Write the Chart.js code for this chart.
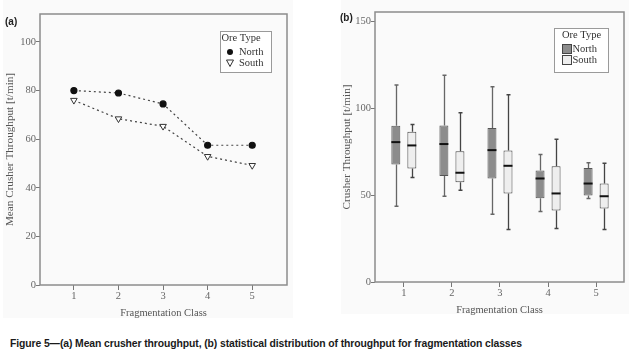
<!DOCTYPE html>
<html lang="en">
<head>
<meta charset="UTF-8" />
<title>Figure 5 - Crusher throughput</title>
<script src="https://cdn.jsdelivr.net/npm/chart.js"></script>
<style>
  body { margin: 0; background: #fff; width: 629px; height: 356px; position: relative; overflow: hidden; }
  .panel { position: absolute; background: #fafafa; }
  canvas { position: absolute; }
  .tag { position: absolute; font: bold 10px "Liberation Sans", Arial, sans-serif; color: #222; }
  #caption { position: absolute; left: 10px; top: 338px; font: bold 10.4px "Liberation Sans", Arial, sans-serif; color: #1a1a1a; white-space: nowrap; letter-spacing: -0.1px; }
</style>
</head>
<body>
<div class="panel" style="left:3px;top:0;width:290px;height:318px"></div>
<div class="panel" style="left:341px;top:0;width:288px;height:314px"></div>
<canvas id="chartA" width="300" height="325" style="left:0;top:0"></canvas>
<canvas id="chartB" width="324" height="325" style="left:305px;top:0"></canvas>
<div class="tag" style="left:5px;top:16px">(a)</div>
<div class="tag" style="left:340px;top:12px">(b)</div>
<div id="caption">Figure 5—(a) Mean crusher throughput, (b) statistical distribution of throughput for fragmentation classes</div>

<script>
// fragmentation classes
const classes = [1, 2, 3, 4, 5];

// (a) mean crusher throughput [t/min]
const northMean = [80, 79, 74.5, 57.5, 57.5];
const southMean = [76, 68.4, 65.3, 52.9, 49.2];

// (b) box plot statistics [t/min]
const northMin = [43.6, 49.3, 39.0, 40.5, 48.0];
const northQ1 = [67.6, 60.9, 59.5, 48.2, 49.7];
const northMed = [80.4, 79.3, 75.8, 59.5, 56.6];
const northQ3 = [89.8, 90.0, 88.5, 64.1, 65.6];
const northMax = [113.2, 118.8, 112.3, 73.3, 68.5];

const southMin = [60.1, 52.8, 30.2, 30.7, 30.2];
const southQ1 = [65.3, 57.4, 50.9, 41.1, 42.2];
const southMed = [78.5, 62.8, 66.8, 50.9, 49.3];
const southQ3 = [86.4, 75.2, 75.6, 66.6, 56.6];
const southMax = [90.6, 97.3, 107.7, 82.0, 68.3];

const yTicksA = [0, 20, 40, 60, 80, 100];
const yTicksB = [0, 50, 100, 150];

const serif = "'Liberation Serif', 'Times New Roman', serif";

// full rectangle round the plot area
const frame = {
  id: "frame",
  beforeDatasetsDraw(chart) {
    const { ctx, chartArea: a } = chart;
    ctx.save();
    ctx.strokeStyle = "#8c8c8c";
    ctx.lineWidth = 1.5;
    ctx.strokeRect(a.left, a.top, a.right - a.left, a.bottom - a.top);
    ctx.restore();
  }
};

// legend box inside the plot
const legendBox = {
  id: "legendBox",
  afterDraw(chart, args, opts) {
    const ctx = chart.ctx;
    ctx.save();
    ctx.fillStyle = "#fff";
    ctx.fillRect(opts.x, opts.y, opts.w, opts.h);
    ctx.strokeStyle = "#9a9a9a";
    ctx.lineWidth = 1;
    ctx.strokeRect(opts.x + 0.5, opts.y + 0.5, opts.w, opts.h);
    ctx.font = "10.5px " + serif;
    ctx.fillStyle = "#333";
    ctx.textBaseline = "middle";
    ctx.textAlign = "center";
    ctx.fillText("Ore Type", opts.titleX, opts.titleY);
    ctx.textAlign = "left";
    opts.items.forEach(it => {
      it.mark(ctx);
      ctx.fillStyle = "#333";
      ctx.fillText(it.text, it.tx, it.ty);
    });
    ctx.restore();
  }
};

function onlyTicks(list) {
  return scale => { scale.ticks = list.map(v => ({ value: v })); };
}

const tickFont = { family: serif, size: 10.5 };
const xTitleFont = { family: serif, size: 10.5 };
const yTitleFont = { family: serif, size: 11.2 };

// ---------- (a) ----------
new Chart(document.getElementById("chartA"), {
  type: "line",
  data: {
    datasets: [
      {
        label: "North",
        data: classes.map((c, i) => ({ x: c, y: northMean[i] })),
        borderColor: "#444",
        borderWidth: 1.2,
        borderDash: [2, 3],
        pointStyle: "circle",
        pointRadius: 3,
        pointBackgroundColor: "#111",
        pointBorderColor: "#111",
        tension: 0
      },
      {
        label: "South",
        data: classes.map((c, i) => ({ x: c, y: southMean[i] })),
        borderColor: "#444",
        borderWidth: 1.2,
        borderDash: [2, 3],
        pointStyle: "triangle",
        rotation: 180,
        pointRadius: 3.8,
        pointBackgroundColor: "#fff",
        pointBorderColor: "#333",
        pointBorderWidth: 1,
        tension: 0
      }
    ]
  },
  options: {
    responsive: false,
    animation: false,
    devicePixelRatio: 1,
    layout: { padding: { top: 14, right: 13, left: 1, bottom: 0 } },
    plugins: {
      legend: { display: false },
      tooltip: { enabled: false },
      legendBox: {
        x: 220, y: 31, w: 51, h: 41, titleX: 241, titleY: 38,
        items: [
          { text: "North", tx: 239, ty: 52, mark: ctx => { ctx.beginPath(); ctx.fillStyle = "#111"; ctx.arc(230, 52, 3, 0, Math.PI * 2); ctx.fill(); } },
          { text: "South", tx: 239, ty: 63, mark: ctx => { ctx.beginPath(); ctx.strokeStyle = "#333"; ctx.lineWidth = 1; ctx.moveTo(226.5, 60); ctx.lineTo(233.5, 60); ctx.lineTo(230, 66.5); ctx.closePath(); ctx.stroke(); } }
        ]
      }
    },
    scales: {
      x: {
        type: "linear",
        min: 0.24, max: 5.78,
        afterBuildTicks: onlyTicks(classes),
        afterFit: s => { s.height = 40; },
        grid: { drawOnChartArea: false, drawTicks: true, tickLength: 5, color: "#777" },
        border: { display: false },
        ticks: { font: tickFont, color: "#666", padding: 0, maxRotation: 0 },
        title: { display: true, text: "Fragmentation Class", font: xTitleFont, color: "#555", padding: { top: 0, bottom: 5 } }
      },
      y: {
        min: 0, max: 111.5,
        afterBuildTicks: onlyTicks(yTicksA),
        afterFit: s => { s.width = 39; },
        grid: { drawOnChartArea: false, drawTicks: true, tickLength: 4, color: "#777" },
        border: { display: false },
        ticks: { font: tickFont, color: "#666", padding: 0 },
        title: { display: true, text: "Mean Crusher Throughput [t/min]", font: yTitleFont, color: "#555", padding: { top: 2, bottom: 0 } }
      }
    }
  },
  plugins: [frame, legendBox]
});

// ---------- (b) ----------
const boxStats = [
  { min: northMin, q1: northQ1, med: northMed, q3: northQ3, max: northMax, color: "#666" },
  { min: southMin, q1: southQ1, med: southMed, q3: southQ3, max: southMax, color: "#444" }
];

// whiskers and medians, placed through the chart scales
const whiskers = {
  id: "whiskers",
  afterDatasetsDraw(chart) {
    const { ctx } = chart;
    const y = chart.scales.y;
    ctx.save();
    boxStats.forEach((st, d) => {
      chart.getDatasetMeta(d).data.forEach((bar, i) => {
        const x = Math.round(bar.x) + 0.5;
        const half = bar.width / 2;
        ctx.strokeStyle = st.color;
        ctx.lineWidth = 1.3;
        ctx.beginPath();
        ctx.moveTo(x, y.getPixelForValue(st.q3[i]));
        ctx.lineTo(x, y.getPixelForValue(st.max[i]));
        ctx.moveTo(x, y.getPixelForValue(st.q1[i]));
        ctx.lineTo(x, y.getPixelForValue(st.min[i]));
        ctx.stroke();
        ctx.lineWidth = 1.5;
        ctx.beginPath();
        [st.max[i], st.min[i]].forEach(v => {
          const py = y.getPixelForValue(v);
          ctx.moveTo(x - 2, py);
          ctx.lineTo(x + 2, py);
        });
        ctx.stroke();
        ctx.strokeStyle = "#111";
        ctx.lineWidth = 2;
        ctx.beginPath();
        const pm = y.getPixelForValue(st.med[i]);
        ctx.moveTo(bar.x - half, pm);
        ctx.lineTo(bar.x + half, pm);
        ctx.stroke();
      });
    });
    ctx.restore();
  }
};

new Chart(document.getElementById("chartB"), {
  type: "bar",
  data: {
    datasets: [
      {
        label: "North",
        data: classes.map((c, i) => ({ x: c, y: [northQ1[i], northQ3[i]] })),
        backgroundColor: "#8c8c8c",
        borderColor: "#555",
        borderWidth: 1,
        borderSkipped: false,
        categoryPercentage: 0.667,
        barPercentage: 0.56
      },
      {
        label: "South",
        data: classes.map((c, i) => ({ x: c, y: [southQ1[i], southQ3[i]] })),
        backgroundColor: "#eeeeee",
        borderColor: "#444",
        borderWidth: 1,
        borderSkipped: false,
        categoryPercentage: 0.667,
        barPercentage: 0.56
      }
    ]
  },
  options: {
    responsive: false,
    animation: false,
    devicePixelRatio: 1,
    layout: { padding: { top: 12, right: 5, left: 33, bottom: 0 } },
    plugins: {
      legend: { display: false },
      tooltip: { enabled: false },
      legendBox: {
        x: 249, y: 28, w: 54, h: 44, titleX: 276.5, titleY: 35,
        items: [
          { text: "North", tx: 267.5, ty: 49, mark: ctx => { ctx.fillStyle = "#8c8c8c"; ctx.fillRect(257.5, 44.5, 9, 9); ctx.strokeStyle = "#444"; ctx.lineWidth = 1; ctx.strokeRect(257.5, 44.5, 9, 9); } },
          { text: "South", tx: 267.5, ty: 60, mark: ctx => { ctx.fillStyle = "#eeeeee"; ctx.fillRect(257.5, 55.5, 9, 9); ctx.strokeStyle = "#444"; ctx.lineWidth = 1; ctx.strokeRect(257.5, 55.5, 9, 9); } }
        ]
      }
    },
    scales: {
      x: {
        type: "linear",
        offset: false,
        min: 0.4, max: 5.58,
        afterBuildTicks: onlyTicks(classes),
        afterFit: s => { s.height = 43; },
        grid: { offset: false, drawOnChartArea: false, drawTicks: true, tickLength: 5, color: "#777" },
        border: { display: false },
        ticks: { font: tickFont, color: "#666", padding: 0, maxRotation: 0 },
        title: { display: true, text: "Fragmentation Class", font: xTitleFont, color: "#555", padding: { top: 0, bottom: 8 } }
      },
      y: {
        min: 0, max: 155.2,
        afterBuildTicks: onlyTicks(yTicksB),
        afterFit: s => { s.width = 37; },
        grid: { drawOnChartArea: false, drawTicks: true, tickLength: 4, color: "#777" },
        border: { display: false },
        ticks: { font: tickFont, color: "#666", padding: 0 },
        title: { display: true, text: "Crusher Throughput [t/min]", font: yTitleFont, color: "#555", padding: { top: 2, bottom: 0 } }
      }
    }
  },
  plugins: [frame, whiskers, legendBox]
});
</script>
</body>
</html>
